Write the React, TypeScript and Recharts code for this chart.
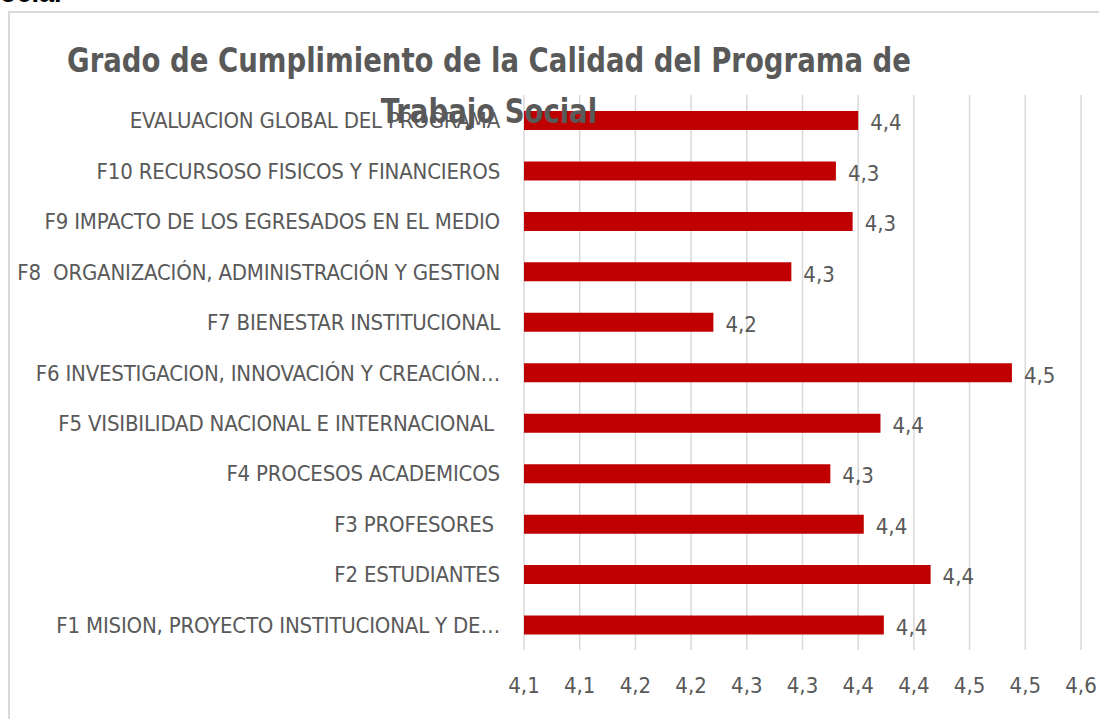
import React from "react";
import { BarChart, Bar, XAxis, YAxis, CartesianGrid, LabelList } from "recharts";

const categories = [
  "EVALUACION GLOBAL DEL PROGRAMA",
  "F10 RECURSOSO FISICOS Y FINANCIEROS",
  "F9 IMPACTO DE LOS EGRESADOS EN EL MEDIO",
  "F8  ORGANIZACIÓN, ADMINISTRACIÓN Y GESTION",
  "F7 BIENESTAR INSTITUCIONAL",
  "F6 INVESTIGACION, INNOVACIÓN Y CREACIÓN…",
  "F5 VISIBILIDAD NACIONAL E INTERNACIONAL ",
  "F4 PROCESOS ACADEMICOS",
  "F3 PROFESORES ",
  "F2 ESTUDIANTES",
  "F1 MISION, PROYECTO INSTITUCIONAL Y DE…",
];

const scores = [4.35, 4.33, 4.345, 4.29, 4.22, 4.488, 4.37, 4.325, 4.355, 4.415, 4.373];

const xTicks = [4.05, 4.1, 4.15, 4.2, 4.25, 4.3, 4.35, 4.4, 4.45, 4.5, 4.55];
const xTickLabels = ["4,1", "4,1", "4,2", "4,2", "4,3", "4,3", "4,4", "4,4", "4,5", "4,5", "4,6"];

const FONT = "'DejaVu Sans Condensed', 'DejaVu Sans', sans-serif";
const GREY = "#595959";

const data = categories.map((name, i) => ({ name, value: scores[i] }));

// one decimal, comma separator, half rounded up like the spreadsheet does
const fmt = (v: number) => (Math.round(v * 10 + 1e-9) / 10).toFixed(1).replace(".", ",");

const CategoryTick = (props: any) => {
  const { x, y, payload } = props;
  return (
    <text
      x={x - 16}
      y={y}
      dy={8}
      textAnchor="end"
      fill={GREY}
      fontSize={22}
      letterSpacing={-0.2}
      fontFamily={FONT}
      style={{ whiteSpace: "pre" }}
    >
      {payload.value}
    </text>
  );
};

const ValueTick = (props: any) => {
  const { x, y, index } = props;
  return (
    <text x={x} y={y} dy={35} textAnchor="middle" fill={GREY} fontSize={22} fontFamily={FONT}>
      {xTickLabels[index]}
    </text>
  );
};

export default function App() {
  return (
    <div style={{ position: "absolute", top: 0, left: 0, width: 1099, height: 719, background: "#fff", overflow: "hidden" }}>
      <div
        style={{
          position: "absolute",
          left: -18,
          top: -20,
          fontFamily: "'Liberation Sans', Arial, sans-serif",
          fontWeight: 700,
          fontSize: 27,
          lineHeight: "27px",
          color: "#000",
        }}
      >
        Social
      </div>
      <div
        style={{
          position: "absolute",
          left: 8,
          top: 11,
          width: 1200,
          height: 800,
          borderLeft: "2px solid #d9d9d9",
          borderTop: "2px solid #d9d9d9",
        }}
      />
      <div style={{ position: "absolute", left: 0, top: 0 }}>
        <BarChart
          width={1099}
          height={719}
          data={data}
          layout="vertical"
          margin={{ top: 95, right: 18, bottom: 0, left: 0 }}
          barCategoryGap="0%"
        >
          <CartesianGrid horizontal={false} stroke="#d9d9d9" strokeWidth={1.5} />
          <XAxis
            type="number"
            domain={[4.05, 4.55]}
            ticks={xTicks}
            allowDataOverflow
            axisLine={false}
            tickLine={false}
            height={69}
            tick={<ValueTick />}
            interval={0}
          />
          <YAxis
            type="category"
            dataKey="name"
            width={524}
            axisLine={false}
            tickLine={false}
            interval={0}
            tick={<CategoryTick />}
          />
          <Bar dataKey="value" fill="#C00000" barSize={19} isAnimationActive={false}>
            <LabelList
              dataKey="value"
              position="right"
              offset={12}
              formatter={(v: any) => fmt(Number(v))}
              fill={GREY}
              fontSize={22}
              fontFamily={FONT}
              dy={2}
            />
          </Bar>
        </BarChart>
      </div>
      <div
        style={{
          position: "absolute",
          left: 0,
          top: 35,
          width: 978,
          textAlign: "center",
          fontFamily: FONT,
          fontWeight: 700,
          fontSize: 34,
          lineHeight: "51px",
          color: GREY,
        }}
      >
        <div style={{ transform: "scaleX(0.9)" }}>Grado de Cumplimiento de la Calidad del Programa de</div>
        <div style={{ transform: "scaleX(0.9)" }}>Trabajo Social</div>
      </div>
    </div>
  );
}
